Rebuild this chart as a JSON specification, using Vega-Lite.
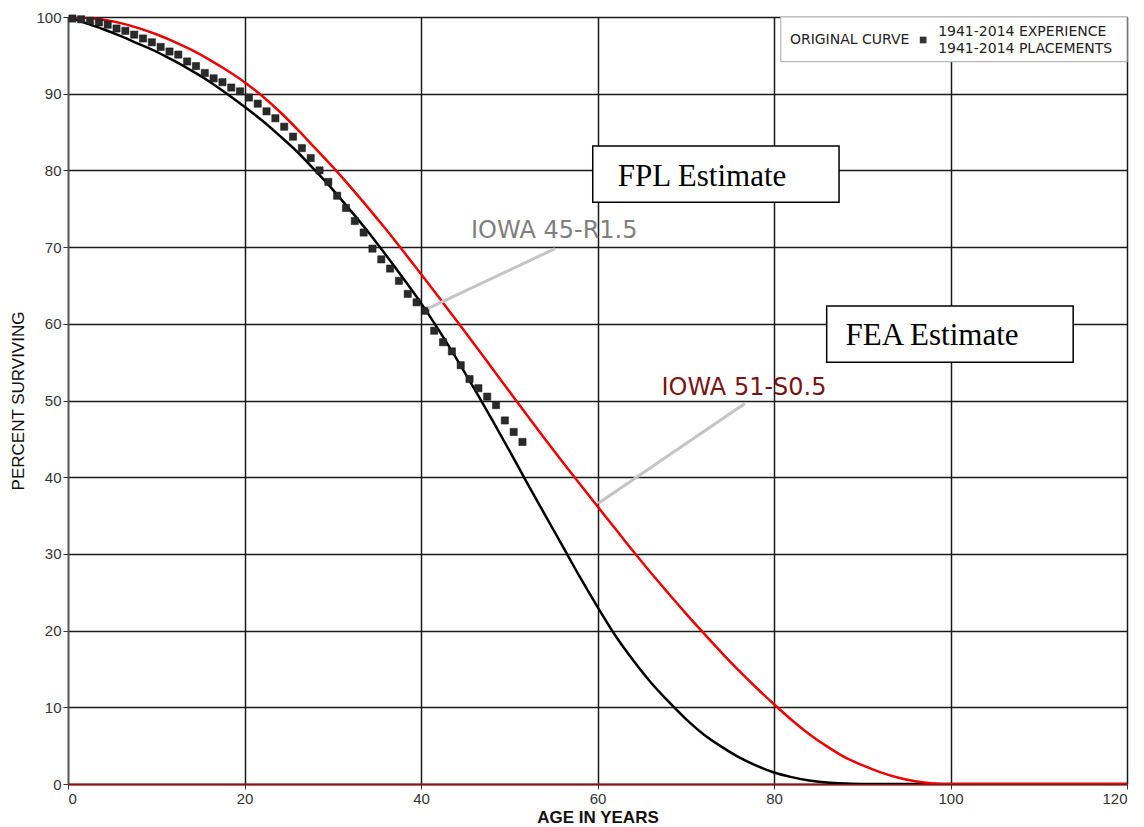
{
  "$schema": "https://vega.github.io/schema/vega-lite/v6.json",
  "width": 1059,
  "height": 767,
  "autosize": {"type": "none"},
  "padding": {"left": 68, "top": 17, "right": 17, "bottom": 43},
  "background": "white",
  "config": {"view": {"stroke": null}},
  "datasets": {
    "curves": [
      {"curve": "IOWA 45-R1.5", "age": 0, "pct": 100}, {"curve": "IOWA 45-R1.5", "age": 2, "pct": 99.2}, {"curve": "IOWA 45-R1.5", "age": 4, "pct": 98.4}, {"curve": "IOWA 45-R1.5", "age": 6, "pct": 97.5}, {"curve": "IOWA 45-R1.5", "age": 8, "pct": 96.5}, {"curve": "IOWA 45-R1.5", "age": 10, "pct": 95.5}, {"curve": "IOWA 45-R1.5", "age": 12, "pct": 94.3}, {"curve": "IOWA 45-R1.5", "age": 14, "pct": 93.0}, {"curve": "IOWA 45-R1.5", "age": 16, "pct": 91.6}, {"curve": "IOWA 45-R1.5", "age": 18, "pct": 90.0}, {"curve": "IOWA 45-R1.5", "age": 20, "pct": 88.3}, {"curve": "IOWA 45-R1.5", "age": 22, "pct": 86.5}, {"curve": "IOWA 45-R1.5", "age": 24, "pct": 84.5}, {"curve": "IOWA 45-R1.5", "age": 26, "pct": 82.4}, {"curve": "IOWA 45-R1.5", "age": 28, "pct": 80.0}, {"curve": "IOWA 45-R1.5", "age": 30, "pct": 77.5}, {"curve": "IOWA 45-R1.5", "age": 32, "pct": 74.8}, {"curve": "IOWA 45-R1.5", "age": 34, "pct": 72.0}, {"curve": "IOWA 45-R1.5", "age": 36, "pct": 69.0}, {"curve": "IOWA 45-R1.5", "age": 38, "pct": 65.9}, {"curve": "IOWA 45-R1.5", "age": 40, "pct": 62.7}, {"curve": "IOWA 45-R1.5", "age": 42, "pct": 59.2}, {"curve": "IOWA 45-R1.5", "age": 44, "pct": 55.5}, {"curve": "IOWA 45-R1.5", "age": 46, "pct": 51.6}, {"curve": "IOWA 45-R1.5", "age": 48, "pct": 47.6}, {"curve": "IOWA 45-R1.5", "age": 50, "pct": 43.5}, {"curve": "IOWA 45-R1.5", "age": 52, "pct": 39.3}, {"curve": "IOWA 45-R1.5", "age": 54, "pct": 35.2}, {"curve": "IOWA 45-R1.5", "age": 56, "pct": 31.1}, {"curve": "IOWA 45-R1.5", "age": 58, "pct": 27.0}, {"curve": "IOWA 45-R1.5", "age": 60, "pct": 23.1}, {"curve": "IOWA 45-R1.5", "age": 62, "pct": 19.4}, {"curve": "IOWA 45-R1.5", "age": 64, "pct": 16.2}, {"curve": "IOWA 45-R1.5", "age": 66, "pct": 13.3}, {"curve": "IOWA 45-R1.5", "age": 68, "pct": 10.8}, {"curve": "IOWA 45-R1.5", "age": 70, "pct": 8.5}, {"curve": "IOWA 45-R1.5", "age": 72, "pct": 6.5}, {"curve": "IOWA 45-R1.5", "age": 74, "pct": 4.9}, {"curve": "IOWA 45-R1.5", "age": 76, "pct": 3.5}, {"curve": "IOWA 45-R1.5", "age": 78, "pct": 2.4}, {"curve": "IOWA 45-R1.5", "age": 80, "pct": 1.5}, {"curve": "IOWA 45-R1.5", "age": 82, "pct": 0.9}, {"curve": "IOWA 45-R1.5", "age": 84, "pct": 0.45}, {"curve": "IOWA 45-R1.5", "age": 86, "pct": 0.2}, {"curve": "IOWA 45-R1.5", "age": 88, "pct": 0.07}, {"curve": "IOWA 45-R1.5", "age": 90, "pct": 0}, {"curve": "IOWA 45-R1.5", "age": 120, "pct": 0},
      {"curve": "IOWA 51-S0.5", "age": 0, "pct": 100}, {"curve": "IOWA 51-S0.5", "age": 2, "pct": 99.9}, {"curve": "IOWA 51-S0.5", "age": 4, "pct": 99.65}, {"curve": "IOWA 51-S0.5", "age": 6, "pct": 99.2}, {"curve": "IOWA 51-S0.5", "age": 8, "pct": 98.55}, {"curve": "IOWA 51-S0.5", "age": 10, "pct": 97.75}, {"curve": "IOWA 51-S0.5", "age": 12, "pct": 96.8}, {"curve": "IOWA 51-S0.5", "age": 14, "pct": 95.7}, {"curve": "IOWA 51-S0.5", "age": 16, "pct": 94.45}, {"curve": "IOWA 51-S0.5", "age": 18, "pct": 93.05}, {"curve": "IOWA 51-S0.5", "age": 20, "pct": 91.5}, {"curve": "IOWA 51-S0.5", "age": 22, "pct": 89.7}, {"curve": "IOWA 51-S0.5", "age": 24, "pct": 87.65}, {"curve": "IOWA 51-S0.5", "age": 26, "pct": 85.35}, {"curve": "IOWA 51-S0.5", "age": 28, "pct": 82.9}, {"curve": "IOWA 51-S0.5", "age": 30, "pct": 80.45}, {"curve": "IOWA 51-S0.5", "age": 32, "pct": 77.85}, {"curve": "IOWA 51-S0.5", "age": 34, "pct": 75.15}, {"curve": "IOWA 51-S0.5", "age": 36, "pct": 72.35}, {"curve": "IOWA 51-S0.5", "age": 38, "pct": 69.45}, {"curve": "IOWA 51-S0.5", "age": 40, "pct": 66.5}, {"curve": "IOWA 51-S0.5", "age": 42, "pct": 63.5}, {"curve": "IOWA 51-S0.5", "age": 44, "pct": 60.45}, {"curve": "IOWA 51-S0.5", "age": 46, "pct": 57.4}, {"curve": "IOWA 51-S0.5", "age": 48, "pct": 54.3}, {"curve": "IOWA 51-S0.5", "age": 50, "pct": 51.2}, {"curve": "IOWA 51-S0.5", "age": 52, "pct": 48.1}, {"curve": "IOWA 51-S0.5", "age": 54, "pct": 45.05}, {"curve": "IOWA 51-S0.5", "age": 56, "pct": 42.05}, {"curve": "IOWA 51-S0.5", "age": 58, "pct": 39.1}, {"curve": "IOWA 51-S0.5", "age": 60, "pct": 36.2}, {"curve": "IOWA 51-S0.5", "age": 62, "pct": 33.3}, {"curve": "IOWA 51-S0.5", "age": 64, "pct": 30.4}, {"curve": "IOWA 51-S0.5", "age": 66, "pct": 27.6}, {"curve": "IOWA 51-S0.5", "age": 68, "pct": 24.9}, {"curve": "IOWA 51-S0.5", "age": 70, "pct": 22.25}, {"curve": "IOWA 51-S0.5", "age": 72, "pct": 19.7}, {"curve": "IOWA 51-S0.5", "age": 74, "pct": 17.2}, {"curve": "IOWA 51-S0.5", "age": 76, "pct": 14.8}, {"curve": "IOWA 51-S0.5", "age": 78, "pct": 12.55}, {"curve": "IOWA 51-S0.5", "age": 80, "pct": 10.4}, {"curve": "IOWA 51-S0.5", "age": 82, "pct": 8.35}, {"curve": "IOWA 51-S0.5", "age": 84, "pct": 6.5}, {"curve": "IOWA 51-S0.5", "age": 86, "pct": 4.9}, {"curve": "IOWA 51-S0.5", "age": 88, "pct": 3.5}, {"curve": "IOWA 51-S0.5", "age": 90, "pct": 2.45}, {"curve": "IOWA 51-S0.5", "age": 92, "pct": 1.55}, {"curve": "IOWA 51-S0.5", "age": 94, "pct": 0.85}, {"curve": "IOWA 51-S0.5", "age": 96, "pct": 0.35}, {"curve": "IOWA 51-S0.5", "age": 98, "pct": 0.08}, {"curve": "IOWA 51-S0.5", "age": 100, "pct": 0}, {"curve": "IOWA 51-S0.5", "age": 120, "pct": 0}
    ],
    "observed": [
      {"age": 0.5, "pct": 99.8}, {"age": 1.5, "pct": 99.7}, {"age": 2.5, "pct": 99.5}, {"age": 3.5, "pct": 99.3}, {"age": 4.5, "pct": 99.0}, {"age": 5.5, "pct": 98.5}, {"age": 6.5, "pct": 98.2}, {"age": 7.5, "pct": 97.7}, {"age": 8.5, "pct": 97.2}, {"age": 9.5, "pct": 96.7}, {"age": 10.5, "pct": 96.1}, {"age": 11.5, "pct": 95.5}, {"age": 12.5, "pct": 95.1}, {"age": 13.5, "pct": 94.2}, {"age": 14.5, "pct": 93.6}, {"age": 15.5, "pct": 92.7}, {"age": 16.5, "pct": 92.0}, {"age": 17.5, "pct": 91.5}, {"age": 18.5, "pct": 90.8}, {"age": 19.5, "pct": 90.3}, {"age": 20.5, "pct": 89.5}, {"age": 21.5, "pct": 88.7}, {"age": 22.5, "pct": 87.7}, {"age": 23.5, "pct": 86.8}, {"age": 24.5, "pct": 85.7}, {"age": 25.5, "pct": 84.4}, {"age": 26.5, "pct": 82.9}, {"age": 27.5, "pct": 81.6}, {"age": 28.5, "pct": 80.0}, {"age": 29.5, "pct": 78.5}, {"age": 30.5, "pct": 76.7}, {"age": 31.5, "pct": 75.1}, {"age": 32.5, "pct": 73.4}, {"age": 33.5, "pct": 71.9}, {"age": 34.5, "pct": 69.8}, {"age": 35.5, "pct": 68.4}, {"age": 36.5, "pct": 67.2}, {"age": 37.5, "pct": 65.6}, {"age": 38.5, "pct": 63.9}, {"age": 39.5, "pct": 62.8}, {"age": 40.5, "pct": 61.7}, {"age": 41.5, "pct": 59.1}, {"age": 42.5, "pct": 57.6}, {"age": 43.5, "pct": 56.4}, {"age": 44.5, "pct": 54.6}, {"age": 45.5, "pct": 52.8}, {"age": 46.5, "pct": 51.6}, {"age": 47.5, "pct": 50.5}, {"age": 48.5, "pct": 49.4}, {"age": 49.5, "pct": 47.4}, {"age": 50.5, "pct": 45.9}, {"age": 51.5, "pct": 44.6}
    ],
    "leaders": [
      {"x": 40.8, "y": 62.0, "x2": 55.2, "y2": 69.8},
      {"x": 60.1, "y": 36.6, "x2": 76.7, "y2": 49.6}
    ],
    "curveLabels": [
      {"label": "IOWA 45-R1.5", "x": 55.1, "y": 71.2},
      {"label": "IOWA 51-S0.5", "x": 76.6, "y": 50.7}
    ],
    "boxes": [
      {"name": "FPL", "x": 59.46, "x2": 87.37, "y": 83.18, "y2": 75.84},
      {"name": "FEA", "x": 85.97, "x2": 113.9, "y": 62.32, "y2": 54.98}
    ],
    "boxTexts": [
      {"text": "FPL Estimate", "x": 62.3, "y": 78.0},
      {"text": "FEA Estimate", "x": 88.1, "y": 57.2}
    ],
    "legendBox": [{"x": 80.76, "x2": 120, "y": 100, "y2": 94.17}],
    "legendTexts": [
      {"text": "ORIGINAL CURVE", "x": 81.8, "y": 97.0},
      {"text": "1941-2014 EXPERIENCE", "x": 98.6, "y": 98.1},
      {"text": "1941-2014 PLACEMENTS", "x": 98.6, "y": 95.8}
    ],
    "legendSymbol": [{"x": 96.9, "y": 97.0}]
  },
  "layer": [
    {
      "data": {"name": "curves"},
      "mark": {"type": "line", "strokeWidth": 2.5, "interpolate": "monotone", "clip": true},
      "encoding": {
        "x": {"field": "age", "type": "quantitative",
          "scale": {"domain": [0, 120], "nice": false},
          "axis": {"values": [0, 20, 40, 60, 80, 100, 120], "title": "AGE IN YEARS", "grid": true,
            "gridColor": "#1a1a1a", "gridWidth": 1.5, "domainColor": "#8b1010", "domainWidth": 2,
            "tickColor": "#333", "tickSize": 5, "labelFont": "Liberation Sans", "labelFontSize": 15,
            "labelColor": "#333", "titleFont": "Liberation Sans", "titleFontSize": 17, "titleFontWeight": "bold",
            "titleColor": "#111", "titlePadding": 3}},
        "y": {"field": "pct", "type": "quantitative",
          "scale": {"domain": [0, 100], "nice": false},
          "axis": {"values": [0, 10, 20, 30, 40, 50, 60, 70, 80, 90, 100], "title": "PERCENT SURVIVING", "grid": true,
            "gridColor": "#1a1a1a", "gridWidth": 1.5, "domainColor": "#555", "domainWidth": 1.5,
            "tickColor": "#333", "tickSize": 5, "labelFont": "Liberation Sans", "labelFontSize": 15,
            "labelColor": "#333", "titleFont": "Liberation Sans", "titleFontSize": 17, "titleFontWeight": "normal",
            "titleColor": "#111", "titlePadding": 8}},
        "color": {"field": "curve", "type": "nominal",
          "scale": {"domain": ["IOWA 45-R1.5", "IOWA 51-S0.5"], "range": ["#000000", "#ee0000"]},
          "legend": null}
      }
    },
    {
      "data": {"name": "observed"},
      "mark": {"type": "point", "shape": "square", "filled": true, "size": 52, "color": "#2a2a2a", "opacity": 1, "stroke": "#111", "strokeWidth": 0.5},
      "encoding": {
        "x": {"field": "age", "type": "quantitative"},
        "y": {"field": "pct", "type": "quantitative"}
      }
    },
    {
      "data": {"name": "leaders"},
      "mark": {"type": "rule", "color": "#c4c4c4", "strokeWidth": 3},
      "encoding": {
        "x": {"field": "x", "type": "quantitative"},
        "y": {"field": "y", "type": "quantitative"},
        "x2": {"field": "x2"},
        "y2": {"field": "y2"}
      }
    },
    {
      "data": {"name": "curveLabels"},
      "transform": [{"filter": "datum.label == 'IOWA 45-R1.5'"}],
      "mark": {"type": "text", "font": "DejaVu Sans", "fontSize": 24, "color": "#7f7f7f", "align": "center", "baseline": "alphabetic"},
      "encoding": {
        "x": {"field": "x", "type": "quantitative"},
        "y": {"field": "y", "type": "quantitative"},
        "text": {"field": "label"}
      }
    },
    {
      "data": {"name": "curveLabels"},
      "transform": [{"filter": "datum.label == 'IOWA 51-S0.5'"}],
      "mark": {"type": "text", "font": "DejaVu Sans", "fontSize": 24, "color": "#7a1515", "align": "center", "baseline": "alphabetic"},
      "encoding": {
        "x": {"field": "x", "type": "quantitative"},
        "y": {"field": "y", "type": "quantitative"},
        "text": {"field": "label"}
      }
    },
    {
      "data": {"name": "boxes"},
      "mark": {"type": "rect", "fill": "white", "stroke": "#000", "strokeWidth": 1.5},
      "encoding": {
        "x": {"field": "x", "type": "quantitative"},
        "x2": {"field": "x2"},
        "y": {"field": "y", "type": "quantitative"},
        "y2": {"field": "y2"}
      }
    },
    {
      "data": {"name": "boxTexts"},
      "mark": {"type": "text", "font": "Liberation Serif", "fontSize": 31, "color": "#000", "align": "left", "baseline": "alphabetic"},
      "encoding": {
        "x": {"field": "x", "type": "quantitative"},
        "y": {"field": "y", "type": "quantitative"},
        "text": {"field": "text"}
      }
    },
    {
      "data": {"name": "legendBox"},
      "mark": {"type": "rect", "fill": "white", "stroke": "#b8b8b8", "strokeWidth": 1.2},
      "encoding": {
        "x": {"field": "x", "type": "quantitative"},
        "x2": {"field": "x2"},
        "y": {"field": "y", "type": "quantitative"},
        "y2": {"field": "y2"}
      }
    },
    {
      "data": {"name": "legendTexts"},
      "mark": {"type": "text", "font": "DejaVu Sans", "fontSize": 14, "color": "#222", "align": "left", "baseline": "middle"},
      "encoding": {
        "x": {"field": "x", "type": "quantitative"},
        "y": {"field": "y", "type": "quantitative"},
        "text": {"field": "text"}
      }
    },
    {
      "data": {"name": "legendSymbol"},
      "mark": {"type": "point", "shape": "square", "filled": true, "size": 45, "color": "#333", "opacity": 1},
      "encoding": {
        "x": {"field": "x", "type": "quantitative"},
        "y": {"field": "y", "type": "quantitative"}
      }
    }
  ]
}
